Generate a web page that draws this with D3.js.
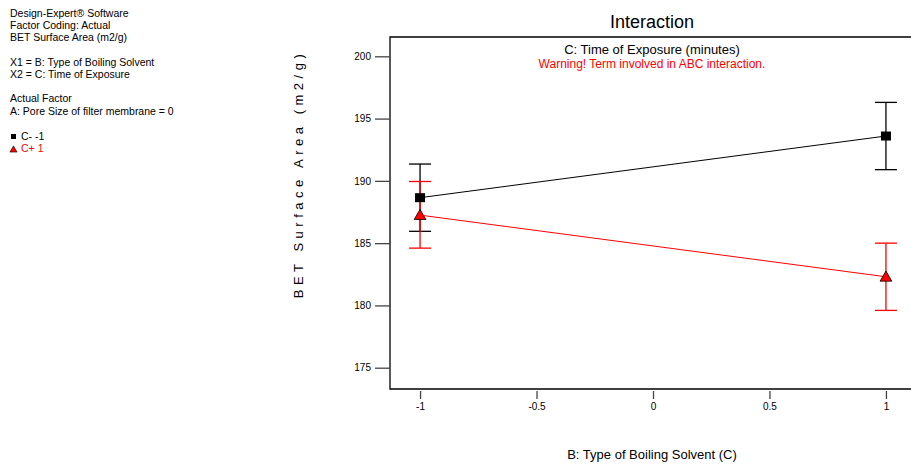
<!DOCTYPE html>
<html><head><meta charset="utf-8">
<script src="https://cdn.jsdelivr.net/npm/d3@7"></script>
<style>
body{margin:0;background:#fff;}
text{font-family:"Liberation Sans",Arial,sans-serif;}
</style></head>
<body><svg id="c" width="911" height="466"></svg>
<script>
const xLevels = [-1, 1];
const seriesNames = ["C- -1", "C+ 1"];
const seriesColors = ["#000000", "#ff0000"];
const meanCminus = [188.65, 193.6];
const lowCminus = [185.95, 190.9];
const highCminus = [191.35, 196.3];
const meanCplus = [187.25, 182.3];
const lowCplus = [184.6, 179.6];
const highCplus = [189.95, 185.0];
const yTicks = [175, 180, 185, 190, 195, 200];
const xTicks = [-1, -0.5, 0, 0.5, 1];
const infoLines = ["Design-Expert® Software","Factor Coding: Actual","BET Surface Area (m2/g)","","X1 = B: Type of Boiling Solvent","X2 = C: Time of Exposure","","Actual Factor","A:  Pore Size of filter membrane = 0"];

const svg = d3.select("#c");
const L = 390, T = 37, B = 389, R = 916;
const x = d3.scaleLinear().domain([-1.129, 1.129]).range([L, R]);
const y = d3.scaleLinear().domain([173.29, 201.55]).range([B, T]);

// info text
const info = svg.append("g").attr("font-size", 10.5).attr("fill", "#000");
infoLines.forEach((t, i) => {
  if (t) info.append("text").attr("x", 10).attr("y", 17 + i * 12.2).text(t);
});
// legend
const lg = svg.append("g");
lg.append("rect").attr("x", 11).attr("y", 134).attr("width", 5).attr("height", 5).attr("fill", "#000");
lg.append("text").attr("x", 21).attr("y", 139.5).attr("font-size", 10.5).attr("fill", "#000").text(seriesNames[0]);
lg.append("path").attr("d", d3.symbol(d3.symbolTriangle, 22)()).attr("transform", "translate(13.5,150)").attr("fill", "#f00").attr("stroke", "#000").attr("stroke-width", 0.6);
lg.append("text").attr("x", 21).attr("y", 152).attr("font-size", 10.5).attr("fill", "#f00").text(seriesNames[1]);

// frame
svg.append("path").attr("d", `M${R},${T}H${L}V${B}H${R}`).attr("fill", "none").attr("stroke", "#000").attr("stroke-width", 1.3);

// y axis
const ya = svg.append("g").attr("transform", `translate(${L},0)`).attr("color", "#000")
  .call(d3.axisLeft(y).tickValues(yTicks).tickSize(15).tickPadding(4).tickFormat(d3.format("d")));
ya.select(".domain").remove();
ya.selectAll("line").attr("stroke", "#444").attr("stroke-width", 1.3);
ya.selectAll("text").attr("fill", "#000").attr("font-size", 10).attr("font-family", "Liberation Sans, Arial, sans-serif");

// x axis
const xa = svg.append("g").attr("transform", `translate(0,${B + 2})`).attr("color", "#000")
  .call(d3.axisBottom(x).tickValues(xTicks).tickSize(8).tickPadding(4).tickFormat(d => String(d)));
xa.select(".domain").remove();
xa.selectAll("line").attr("stroke", "#444").attr("stroke-width", 1.3);
xa.selectAll("text").attr("fill", "#000").attr("font-size", 10).attr("font-family", "Liberation Sans, Arial, sans-serif");

// titles
svg.append("text").attr("x", 652).attr("y", 28).attr("text-anchor", "middle").attr("font-size", 18).text("Interaction");
svg.append("text").attr("x", 652).attr("y", 54).attr("text-anchor", "middle").attr("font-size", 13).text("C: Time of Exposure  (minutes)");
svg.append("text").attr("x", 652).attr("y", 68).attr("text-anchor", "middle").attr("font-size", 12).attr("fill", "#f00").text("Warning! Term involved in ABC interaction.");
svg.append("text").attr("x", 652).attr("y", 459).attr("text-anchor", "middle").attr("font-size", 13).text("B: Type of Boiling Solvent (C)");
svg.append("text").attr("transform", "translate(303,174) rotate(-90)").attr("text-anchor", "middle")
  .attr("font-size", 13).attr("letter-spacing", "4.5px").text("BET Surface Area (m2/g)");

const series = [
  {mean: meanCminus, low: lowCminus, high: highCminus, color: seriesColors[0], sym: "sq"},
  {mean: meanCplus, low: lowCplus, high: highCplus, color: seriesColors[1], sym: "tri"}
];
const line = d3.line().x((d, i) => x(xLevels[i])).y(d => y(d));
series.forEach(s => {
  svg.append("path").attr("d", line(s.mean)).attr("fill", "none").attr("stroke", s.color).attr("stroke-width", 1);
  xLevels.forEach((lv, i) => {
    const g = svg.append("g").attr("stroke", s.color).attr("stroke-width", 1.3);
    g.append("line").attr("x1", x(lv)).attr("x2", x(lv)).attr("y1", y(s.low[i])).attr("y2", y(s.high[i]));
    [s.low[i], s.high[i]].forEach(v => g.append("line").attr("x1", x(lv) - 11).attr("x2", x(lv) + 11).attr("y1", y(v)).attr("y2", y(v)));
  });
});
series.forEach(s => {
  xLevels.forEach((lv, i) => {
    if (s.sym === "sq") {
      svg.append("rect").attr("x", x(lv) - 5).attr("y", y(s.mean[i]) - 4.5).attr("width", 10).attr("height", 9).attr("fill", "#000");
    } else {
      svg.append("path").attr("d", d3.symbol(d3.symbolTriangle, 60)()).attr("transform", `translate(${x(lv)},${y(s.mean[i]) + 1})`)
        .attr("fill", "#f00").attr("stroke", "#000").attr("stroke-width", 0.8);
    }
  });
});
</script></body></html>
